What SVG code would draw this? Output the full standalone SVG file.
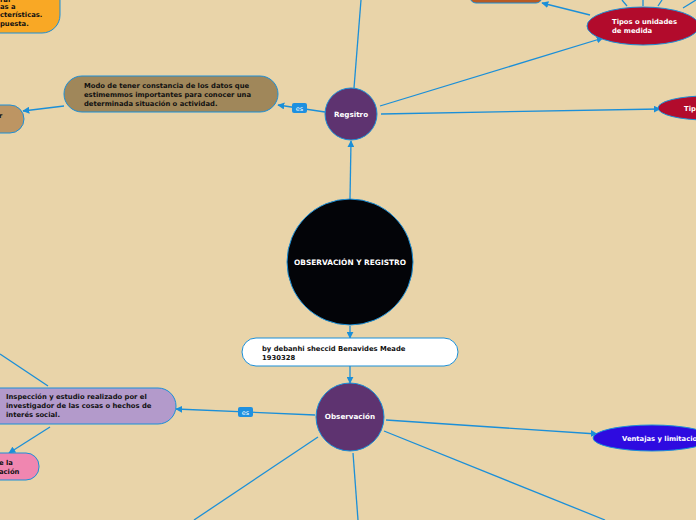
<svg xmlns="http://www.w3.org/2000/svg" width="696" height="520" viewBox="0 0 696 520">
<defs>
<marker id="ah" viewBox="0 0 10 10" refX="9" refY="5" markerWidth="7" markerHeight="7" orient="auto" markerUnits="userSpaceOnUse"><path d="M0,0 L10,5 L0,10 z" fill="#1B8FD8"/></marker>
<style>
.c{stroke:#1B8FD8;stroke-width:1.3;fill:none}
.n{stroke:#1B8FD8;stroke-width:1}
.t{font-family:"DejaVu Sans",Verdana,sans-serif;font-weight:bold;font-size:6.8px}
.w{fill:#ffffff}
.k{fill:#111111}
.es{fill:#1E90E0}
</style>
</defs>
<rect width="696" height="520" fill="#E9D4A9"/>
<g id="connectors">
<line class="c" x1="350" y1="199" x2="351" y2="141" marker-end="url(#ah)"/>
<line class="c" x1="354" y1="88" x2="361" y2="0"/>
<line class="c" x1="325" y1="112" x2="278" y2="105" marker-end="url(#ah)"/>
<line class="c" x1="64" y1="106" x2="23" y2="111" marker-end="url(#ah)"/>
<line class="c" x1="380" y1="106" x2="603" y2="38" marker-end="url(#ah)"/>
<line class="c" x1="590" y1="15" x2="542" y2="3" marker-end="url(#ah)"/>
<line class="c" x1="622" y1="0" x2="627" y2="6"/>
<line class="c" x1="643" y1="0" x2="643" y2="6"/>
<line class="c" x1="662" y1="0" x2="658" y2="6"/>
<line class="c" x1="696" y1="0" x2="683" y2="8"/>
<line class="c" x1="381" y1="114" x2="660" y2="109" marker-end="url(#ah)"/>
<line class="c" x1="350" y1="326" x2="350" y2="338" marker-end="url(#ah)"/>
<line class="c" x1="350" y1="366" x2="350" y2="383" marker-end="url(#ah)"/>
<line class="c" x1="315" y1="415" x2="176" y2="409" marker-end="url(#ah)"/>
<line class="c" x1="48" y1="386" x2="0" y2="354"/>
<line class="c" x1="50" y1="427" x2="9" y2="453" marker-end="url(#ah)"/>
<line class="c" x1="386" y1="420" x2="597" y2="434" marker-end="url(#ah)"/>
<line class="c" x1="318" y1="437" x2="194" y2="520"/>
<line class="c" x1="353" y1="453" x2="358" y2="520"/>
<line class="c" x1="384" y1="431" x2="605" y2="520"/>
<rect class="es" x="292" y="103" width="15" height="10" rx="2"/>
<text class="t w" x="299.5" y="110.5" text-anchor="middle" style="font-weight:normal;font-size:6.5px">es</text>
<rect class="es" x="238" y="407" width="15" height="10" rx="2"/>
<text class="t w" x="245.5" y="414.5" text-anchor="middle" style="font-weight:normal;font-size:6.5px">es</text>
</g>
<g id="center">
<circle class="n" cx="350" cy="262" r="63" fill="#030408"/>
<text class="t w" x="350" y="265" text-anchor="middle" style="font-size:7.4px">OBSERVACIÓN Y REGISTRO</text>
</g>
<g id="regsitro">
<circle class="n" cx="351" cy="114" r="26" fill="#5E3370"/>
<text class="t w" x="351" y="117" text-anchor="middle" style="font-size:7.2px">Regsitro</text>
</g>
<g id="modo">
<rect class="n" x="64" y="76" width="214" height="36" rx="18" fill="#A0875A"/>
<text class="t k" x="84" y="88">Modo de tener constancia de los datos que</text>
<text class="t k" x="84" y="97">estimemmos importantes para conocer una</text>
<text class="t k" x="84" y="106">determinada situación o actividad.</text>
</g>
<g id="left-brown">
<rect class="n" x="-30" y="105" width="54" height="28" rx="14" fill="#BD9563"/>
<text class="t k" x="-1" y="118">r</text>
</g>
<g id="tipos-unidades">
<ellipse class="n" cx="643" cy="26" rx="56" ry="19" fill="#B20B2C"/>
<text class="t w" x="612" y="24">Tipos o unidades</text>
<text class="t w" x="612" y="33">de medida</text>
</g>
<g id="top-brown">
<rect class="n" x="470" y="-30" width="72" height="33" rx="6" fill="#B85A23"/>
</g>
<g id="tipo-right">
<ellipse class="n" cx="706" cy="108" rx="48" ry="12" fill="#B20B2C"/>
<text class="t w" x="684" y="111">Tip</text>
</g>
<g id="orange">
<rect class="n" x="-60" y="-20" width="120" height="53" rx="18" fill="#F9A825"/>
<text class="t k" x="0" y="2">ral</text>
<text class="t k" x="0" y="9">as a</text>
<text class="t k" x="0" y="17">cterísticas.</text>
<text class="t k" x="0" y="26">puesta.</text>
</g>
<g id="byline">
<rect class="n" x="242" y="338" width="216" height="28" rx="14" fill="#ffffff"/>
<text class="t k" x="262" y="351">by debanhi sheccid Benavides Meade</text>
<text class="t k" x="262" y="360">1930328</text>
</g>
<g id="observacion">
<circle class="n" cx="350" cy="417" r="34" fill="#5E3370"/>
<text class="t w" x="350" y="419" text-anchor="middle" style="font-size:7.2px">Observación</text>
</g>
<g id="inspeccion">
<rect class="n" x="-30" y="388" width="206" height="36" rx="18" fill="#B39ACB"/>
<text class="t k" x="6" y="399">Inspección y estudio realizado por el</text>
<text class="t k" x="6" y="408">investigador de las cosas o hechos de</text>
<text class="t k" x="6" y="417">interés social.</text>
</g>
<g id="pink">
<rect class="n" x="-30" y="453" width="69" height="27" rx="13" fill="#F086B0"/>
<text class="t k" x="-1" y="465">e la</text>
<text class="t k" x="-1" y="474">ación</text>
</g>
<g id="ventajas">
<ellipse class="n" cx="652" cy="438" rx="59" ry="13" fill="#2E0BE0"/>
<text class="t w" x="622" y="441">Ventajas y limitaciones</text>
</g>
</svg>
